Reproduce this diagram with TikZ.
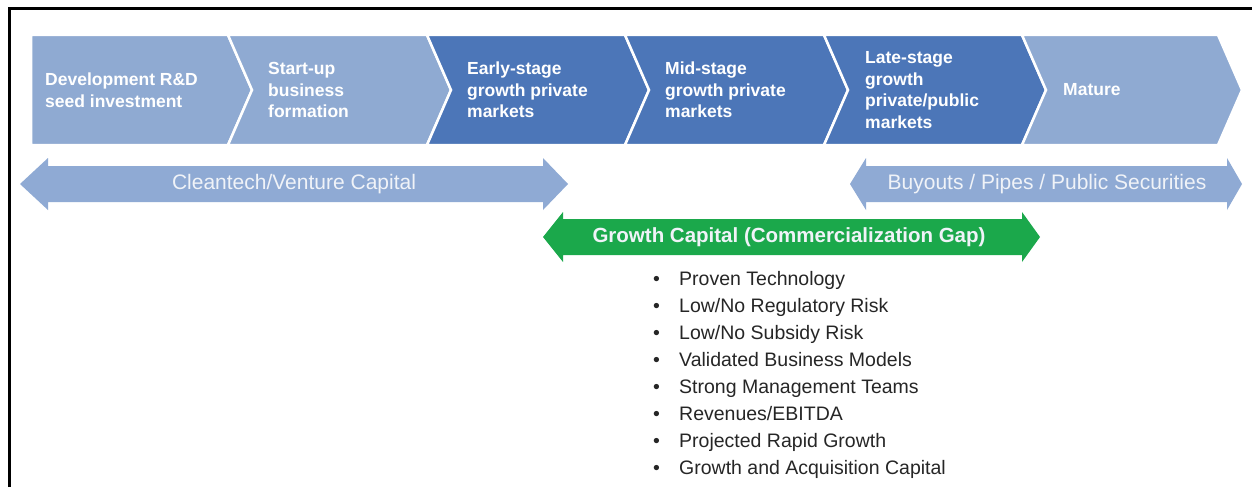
\documentclass[tikz,border=0pt]{standalone}
\usepackage{tikz, xcolor}
\usepackage{fontspec}
\setmainfont{Liberation Sans}

\definecolor{stagelight}{RGB}{143,170,210}
\definecolor{stagedark}{RGB}{76,118,184}
\definecolor{capblue}{RGB}{143,170,212}
\definecolor{capgreen}{RGB}{27,168,75}
\definecolor{captext}{RGB}{240,243,248}
\definecolor{itemgray}{RGB}{38,38,38}

\begin{document}
\begin{tikzpicture}[x=1pt, y=-1pt]
\tikzstyle{stagel}=[fill=stagelight, draw=white, line width=2.5pt]
\tikzstyle{staged}=[fill=stagedark, draw=white, line width=2.5pt]
\tikzstyle{stagetext}=[anchor=west, align=left, text=white, inner sep=0pt, font=\fontsize{17.5}{21.5}\selectfont\bfseries]
\tikzstyle{captxt}=[text=captext, inner sep=0pt, font=\fontsize{21}{24}\selectfont]
\tikzstyle{gaptxt}=[text=captext, inner sep=0pt, font=\fontsize{20.5}{24}\selectfont\bfseries]
\tikzstyle{itemtxt}=[anchor=base west, text=itemgray, inner sep=0pt, font=\fontsize{19.5}{22}\selectfont]

\fill[white] (0,0) rectangle (1252,487);
\useasboundingbox (0,0) rectangle (1252,487);
\draw[line width=3pt] (9.5,487) -- (9.5,8.5) -- (1252,8.5);

% stages
\draw[stagel] (31,35) -- (228,35) -- (252,90) -- (228,145) -- (31,145) -- cycle;
\draw[stagel] (228,35) -- (427,35) -- (451,90) -- (427,145) -- (228,145) -- (252,90) -- cycle;
\draw[staged] (427,35) -- (625,35) -- (649,90) -- (625,145) -- (427,145) -- (451,90) -- cycle;
\draw[staged] (625,35) -- (824,35) -- (848,90) -- (824,145) -- (625,145) -- (649,90) -- cycle;
\draw[staged] (824,35) -- (1022,35) -- (1046,90) -- (1022,145) -- (824,145) -- (848,90) -- cycle;
\draw[stagel] (1022,35) -- (1218,35) -- (1242,90) -- (1218,145) -- (1022,145) -- (1046,90) -- cycle;

\node[stagetext] (S0) at (45,90) {Development R\&D\\seed investment};
\node[stagetext] (S1) at (268,90) {Start-up\\business\\formation};
\node[stagetext] (S2) at (467,90) {Early-stage\\growth private\\markets};
\node[stagetext] (S3) at (665,90) {Mid-stage\\growth private\\markets};
\node[stagetext] (S4) at (865,90) {Late-stage\\growth\\private/public\\markets};
\node[stagetext] (S5) at (1063,90) {Mature};

% capital ranges
\fill[capblue] (20,184) -- (48,158) -- (48,166) -- (543,166) -- (543,158) -- (568,184)
  -- (543,210) -- (543,202) -- (48,202) -- (48,210) -- cycle;
\node[captxt] (C0) at (294,184) {Cleantech/Venture Capital};

\fill[capblue] (850,184) -- (866,158) -- (866,166) -- (1227,166) -- (1227,158) -- (1242,184)
  -- (1227,210) -- (1227,202) -- (866,202) -- (866,210) -- cycle;
\node[captxt] (C1) at (1047,184) {Buyouts / Pipes / Public Securities};

\fill[capgreen] (543,237) -- (563,212) -- (563,219) -- (1022,219) -- (1022,212) -- (1040,237)
  -- (1022,262) -- (1022,255) -- (563,255) -- (563,262) -- cycle;
\node[gaptxt] (G0) at (789,237) {Growth Capital (Commercialization Gap)};

% gap criteria
\node[itemtxt] (I0) at (653,285) {\makebox[26pt][l]{•}Proven Technology};
\node[itemtxt] (I1) at (653,312) {\makebox[26pt][l]{•}Low/No Regulatory Risk};
\node[itemtxt] (I2) at (653,339) {\makebox[26pt][l]{•}Low/No Subsidy Risk};
\node[itemtxt] (I3) at (653,366) {\makebox[26pt][l]{•}Validated Business Models};
\node[itemtxt] (I4) at (653,393) {\makebox[26pt][l]{•}Strong Management Teams};
\node[itemtxt] (I5) at (653,420) {\makebox[26pt][l]{•}Revenues/EBITDA};
\node[itemtxt] (I6) at (653,447) {\makebox[26pt][l]{•}Projected Rapid Growth};
\node[itemtxt] (I7) at (653,474) {\makebox[26pt][l]{•}Growth and Acquisition Capital};
\end{tikzpicture}
\end{document}
